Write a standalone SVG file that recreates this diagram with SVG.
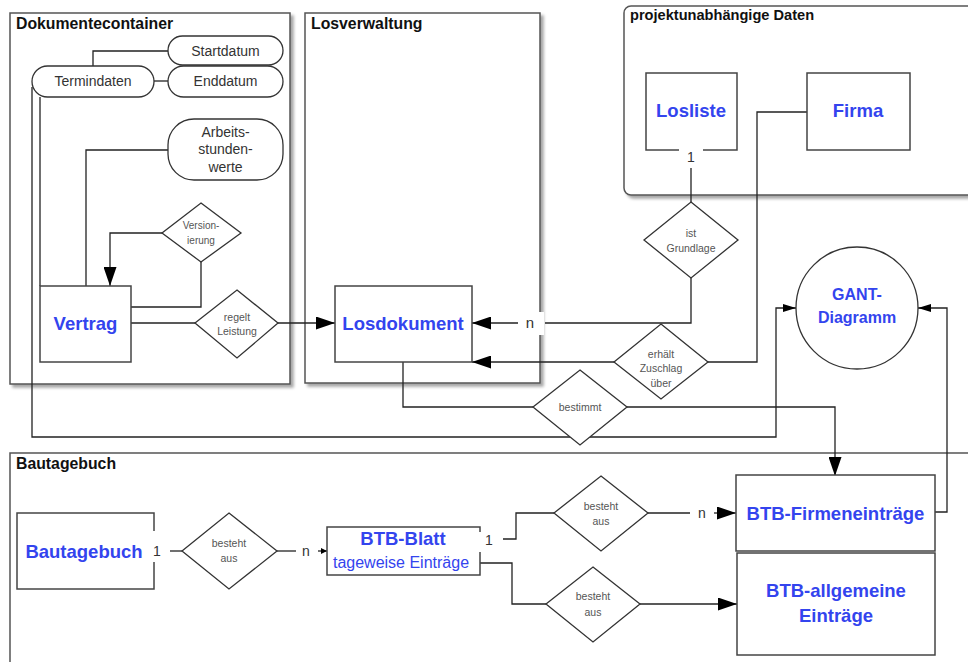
<svg xmlns="http://www.w3.org/2000/svg" width="968" height="662" viewBox="0 0 968 662">
<defs>
<filter id="sh" x="-5%" y="-5%" width="115%" height="115%">
<feDropShadow dx="3" dy="3" stdDeviation="1.5" flood-color="#000" flood-opacity="0.35"/>
</filter>
<marker id="big" viewBox="0 0 19 13" refX="19" refY="6.5" markerWidth="19" markerHeight="13" markerUnits="userSpaceOnUse" orient="auto"><path d="M0,0 L19,6.5 L0,13 Z" fill="#000"/></marker>
<marker id="mid" viewBox="0 0 13 8" refX="13" refY="4" markerWidth="13" markerHeight="8" markerUnits="userSpaceOnUse" orient="auto"><path d="M0,0 L13,4 L0,8 Z" fill="#000"/></marker>
<marker id="small" viewBox="0 0 6 6" refX="6" refY="3" markerWidth="6" markerHeight="6" markerUnits="userSpaceOnUse" orient="auto"><path d="M0,0 L6,3 L0,6 Z" fill="#000"/></marker>
</defs>
<style>
.cont{fill:#fff;stroke:#555;stroke-width:1.5;filter:url(#sh)}
.title{font-family:"Liberation Sans",Arial,sans-serif;font-weight:bold;font-size:15.8px;fill:#111}
.ent{fill:#fff;stroke:#444;stroke-width:1.5}
.et{font-family:"Liberation Sans",Arial,sans-serif;font-weight:bold;font-size:18.5px;fill:#3344ee;text-anchor:middle}
.attr{fill:#fff;stroke:#333;stroke-width:1.3}
.at{font-family:"Liberation Sans",Arial,sans-serif;font-size:14px;fill:#333;text-anchor:middle}
.rel{fill:#fff;stroke:#333;stroke-width:1.3}
.rt{font-family:"Liberation Sans",Arial,sans-serif;font-size:10.5px;fill:#555;text-anchor:middle}
.ln{fill:none;stroke:#222;stroke-width:1.3}
.card{font-family:"Liberation Sans",Arial,sans-serif;font-size:14px;fill:#333;text-anchor:middle}
</style>
<rect width="968" height="662" fill="#fff"/>
<g id="containers">
<g id="c-dok"><rect class="cont" x="10" y="13" width="280" height="371"/><text class="title" x="16" y="29">Dokumentecontainer</text></g>
<g id="c-los"><rect class="cont" x="305" y="13" width="235" height="370"/><text class="title" x="311" y="29">Losverwaltung</text></g>
<g id="c-proj"><rect class="cont" x="624" y="6" width="400" height="189" rx="7"/><text class="title" x="630" y="20" style="font-size:14.6px">projektunabhängige Daten</text></g>
<g id="c-btb"><rect class="cont" x="10" y="453" width="1000" height="300"/><text class="title" x="16" y="469">Bautagebuch</text></g>
</g>
<g id="connectors">
<path class="ln" d="M168,51 H93 V66"/>
<path class="ln" d="M154,81 H168"/>
<path class="ln" d="M168,150 H86 V286"/>
<path class="ln" d="M40,97 V286"/>
<path class="ln" d="M32,87 V437 H776 V308 H796" marker-end="url(#mid)"/>
<path class="ln" d="M162,233 H110 V286" marker-end="url(#big)"/>
<path class="ln" d="M201,262 V307 H131"/>
<path class="ln" d="M131,323 H195"/>
<path class="ln" d="M278,323 H335" marker-end="url(#big)"/>
<path class="ln" d="M691,278 V323 H545"/>
<path class="ln" d="M518,323 H472" marker-end="url(#big)"/>
<path class="ln" d="M691,202 V168"/>
<path class="ln" d="M807,112 H757 V362 H708"/>
<path class="ln" d="M614,362 H472" marker-end="url(#big)"/>
<path class="ln" d="M403,362 V407 H533"/>
<path class="ln" d="M627,407 H835 V476" marker-end="url(#big)"/>
<path class="ln" d="M935,512 H947 V308 H918" marker-end="url(#mid)"/>
<path class="ln" d="M170,551 H182"/>
<path class="ln" d="M277,551 H296"/>
<path class="ln" d="M318,551 H327" marker-end="url(#small)"/>
<path class="ln" d="M503,539 H516 V513 H554"/>
<path class="ln" d="M648,513 H690"/>
<path class="ln" d="M714,513 H736" marker-end="url(#big)"/>
<path class="ln" d="M480,563 H512 V604 H546"/>
<path class="ln" d="M640,604 H737" marker-end="url(#big)"/>
</g>
<g id="n-startdatum"><rect class="attr" x="168" y="36" width="115" height="29" rx="14.5"/><text class="at" x="225.5" y="55.5">Startdatum</text></g>
<g id="n-enddatum"><rect class="attr" x="168" y="66" width="115" height="31" rx="15.5"/><text class="at" x="225.5" y="86">Enddatum</text></g>
<g id="n-termindaten"><rect class="attr" x="32" y="66" width="122" height="31" rx="15.5"/><text class="at" x="93" y="86">Termindaten</text></g>
<g id="n-arbeits"><rect class="attr" x="168" y="119" width="115" height="61" rx="26"/><text class="at" x="225.5" y="137">Arbeits-</text><text class="at" x="225.5" y="154">stunden-</text><text class="at" x="225.5" y="172">werte</text></g>
<g id="n-vertrag"><rect class="ent" x="40" y="286" width="91" height="76"/><text class="et" x="85.5" y="330">Vertrag</text></g>
<g id="n-versionierung"><polygon class="rel" points="201,203 241,233 201,262 162,233"/><text class="rt" x="201" y="229" style="font-size:10px">Version-</text><text class="rt" x="201" y="244" style="font-size:10px">ierung</text></g>
<g id="n-regelt"><polygon class="rel" points="237,290 278,323 237,358 195,323"/><text class="rt" x="237" y="321">regelt</text><text class="rt" x="237" y="335">Leistung</text></g>
<g id="n-losdokument"><rect class="ent" x="335" y="286" width="137" height="76"/><text class="et" x="403" y="330">Losdokument</text></g>
<g id="n-losliste"><rect class="ent" x="646" y="73" width="91" height="77"/><text class="et" x="691" y="117">Losliste</text></g>
<g id="n-firma"><rect class="ent" x="807" y="73" width="103" height="77"/><text class="et" x="858" y="117">Firma</text></g>
<g id="n-grundlage"><polygon class="rel" points="691,202 738,240 691,278 644,240"/><text class="rt" x="691" y="237">ist</text><text class="rt" x="691" y="252">Grundlage</text></g>
<g id="n-zuschlag"><polygon class="rel" points="661,324 708,362 661,399 614,362"/><text class="rt" x="661" y="358">erhält</text><text class="rt" x="661" y="372">Zuschlag</text><text class="rt" x="661" y="387">über</text></g>
<g id="n-bestimmt"><polygon class="rel" points="580,370 627,407 580,445 533,407"/><text class="rt" x="580" y="411">bestimmt</text></g>
<g id="n-gant"><circle class="attr" cx="857" cy="308" r="61"/><text class="et" x="857" y="300" style="font-size:16px">GANT-</text><text class="et" x="857" y="323" style="font-size:16px">Diagramm</text></g>
<g id="n-bautagebuch"><rect class="ent" x="17" y="513" width="137" height="76"/><text class="et" x="84" y="557.5">Bautagebuch</text></g>
<g id="n-besteht1"><polygon class="rel" points="229,513 277,551 229,589 182,551"/><text class="rt" x="229" y="547">besteht</text><text class="rt" x="229" y="562">aus</text></g>
<g id="n-btbblatt"><rect class="ent" x="327" y="527" width="153" height="48"/><text class="et" x="403" y="544.5">BTB-Blatt</text><text class="et" x="401" y="568" style="font-weight:normal;font-size:16px">tageweise Einträge</text></g>
<g id="n-besteht2"><polygon class="rel" points="601,476 648,513 601,551 554,513"/><text class="rt" x="601" y="510">besteht</text><text class="rt" x="601" y="525">aus</text></g>
<g id="n-besteht3"><polygon class="rel" points="593,567 640,604 593,642 546,604"/><text class="rt" x="593" y="600">besteht</text><text class="rt" x="593" y="616">aus</text></g>
<g id="n-firmeneintraege"><rect class="ent" x="736" y="475" width="199" height="76"/><text class="et" x="835.5" y="519.5">BTB-Firmeneinträge</text></g>
<g id="n-allgemeine"><rect class="ent" x="737" y="553" width="198" height="102"/><text class="et" x="836" y="596.5">BTB-allgemeine</text><text class="et" x="836" y="621.5">Einträge</text></g>
<g id="labels">
<rect x="519" y="312" width="25" height="23" fill="#fff"/><text class="card" x="530" y="328" style="font-size:15px">n</text>
<rect x="679" y="146" width="24" height="22" fill="#fff"/><text class="card" x="691" y="162">1</text>
<rect x="150" y="531" width="20" height="31" fill="#fff"/><text class="card" x="157" y="556">1</text>
<text class="card" x="306" y="556">n</text>
<rect x="478" y="532" width="24" height="20" fill="#fff"/><text class="card" x="489" y="545">1</text>
<text class="card" x="702" y="518">n</text>
</g>
</svg>
